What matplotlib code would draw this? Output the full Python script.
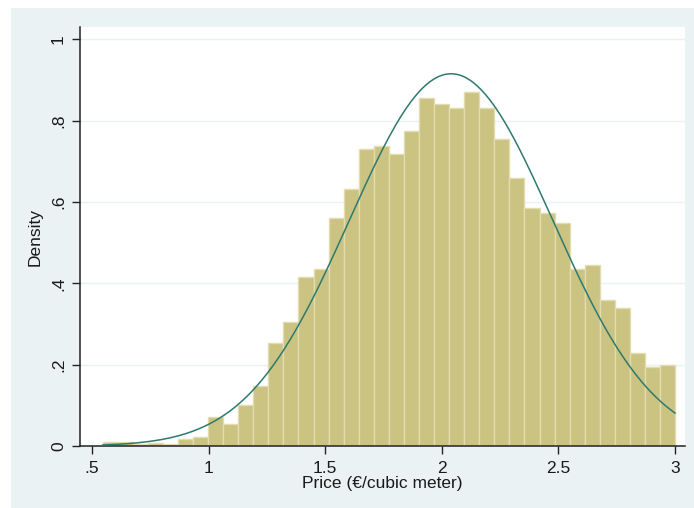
import numpy as np
import matplotlib
matplotlib.use('Agg')
import matplotlib.pyplot as plt
from matplotlib.patches import Rectangle

# histogram of prices (density per bin)
bin_start = 0.546
bin_width = 0.0646
density = [0.009, 0.009, 0.004, 0.008, 0.005, 0.016, 0.022, 0.072, 0.055, 0.100,
           0.147, 0.253, 0.304, 0.416, 0.436, 0.560, 0.631, 0.730, 0.738, 0.718,
           0.774, 0.855, 0.840, 0.832, 0.871, 0.832, 0.754, 0.658, 0.584, 0.573,
           0.548, 0.435, 0.446, 0.360, 0.340, 0.229, 0.194, 0.198]

# normal overlay parameters
mu = 2.04
sigma = 0.436

xticks = [0.5, 1, 1.5, 2, 2.5, 3]
xticklabels = ['.5', '1', '1.5', '2', '2.5', '3']
yticks = [0, 0.2, 0.4, 0.6, 0.8, 1]
yticklabels = ['0', '.2', '.4', '.6', '.8', '1']

plt.rcParams['font.family'] = ['Liberation Sans', 'DejaVu Sans']

fig = plt.figure(figsize=(6.94, 5.08), dpi=100, facecolor='white')
# light outer panel like Stata's s2color scheme
fig.patches.append(Rectangle((11 / 694, 0), 1, 1 - 8 / 508, transform=fig.transFigure,
                             facecolor='#eaf2f3', edgecolor='none', zorder=-1))

ax = fig.add_axes([80 / 694, 1 - 446 / 508, 605 / 694, 419 / 508])
ax.set_facecolor('white')

lefts = bin_start + bin_width * np.arange(len(density))
ax.bar(lefts, density, width=bin_width, align='edge', color='#cbc381',
       edgecolor='#e2dcae', linewidth=1.0, zorder=2)

xs = np.linspace(bin_start, 3.0, 300)
ys = np.exp(-(xs - mu) ** 2 / (2 * sigma ** 2)) / (sigma * np.sqrt(2 * np.pi))
ax.plot(xs, ys, color='#2e7a70', linewidth=1.1, zorder=3)

ax.set_xlim(0.449, 3.043)
ax.set_ylim(0, 1.03)
for y in yticks[1:]:
    ax.axhline(y, color='#eaf2f3', linewidth=1.0, zorder=1)

ax.set_xticks(xticks)
ax.set_xticklabels(xticklabels)
ax.set_yticks(yticks)
ax.set_yticklabels(yticklabels, rotation=90, va='center')
ax.tick_params(axis='both', length=6, width=1, color='#222222', labelsize=12.5,
               labelcolor='#1a1a1a', pad=4)
ax.tick_params(axis='x', pad=5)

for s in ['top', 'right']:
    ax.spines[s].set_visible(False)
for s in ['left', 'bottom']:
    ax.spines[s].set_linewidth(1.1)
    ax.spines[s].set_color('#222222')

ax.set_xlabel('Price (€/cubic meter)', fontsize=12.5, color='#1a1a1a', labelpad=0)
ax.set_ylabel('Density', fontsize=12.5, color='#1a1a1a', labelpad=6)

fig.savefig('out.png', dpi=100, facecolor=fig.get_facecolor())
